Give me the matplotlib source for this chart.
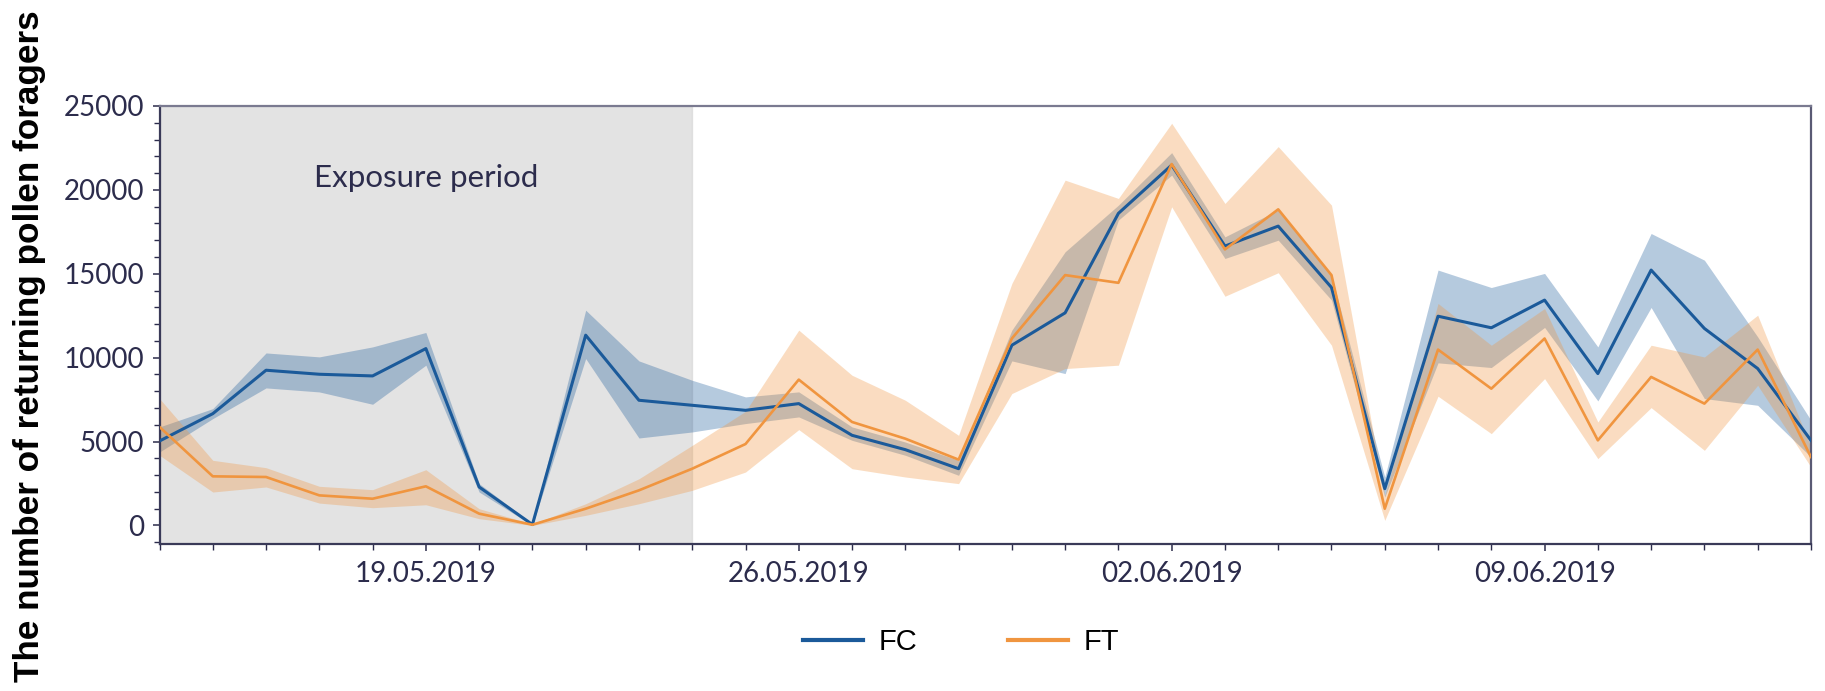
import matplotlib
matplotlib.use("Agg")
import matplotlib.pyplot as plt
import matplotlib.dates as mdates
from matplotlib.ticker import MultipleLocator, FuncFormatter
from matplotlib.lines import Line2D
import numpy as np
import pandas as pd

dates = ["2019-05-14", "2019-05-15", "2019-05-16", "2019-05-17", "2019-05-18", "2019-05-19",
         "2019-05-20", "2019-05-21", "2019-05-22", "2019-05-23", "2019-05-24", "2019-05-25",
         "2019-05-26", "2019-05-27", "2019-05-28", "2019-05-29", "2019-05-30", "2019-05-31",
         "2019-06-01", "2019-06-02", "2019-06-03", "2019-06-04", "2019-06-05", "2019-06-06",
         "2019-06-07", "2019-06-08", "2019-06-09", "2019-06-10", "2019-06-11", "2019-06-12",
         "2019-06-13", "2019-06-14"]

fc_mean = [5030, 6660, 9250, 9010, 8910, 10540, 2290, 50, 11340, 7460, 7160, 6860, 7260, 5370, 4515, 3380,
           10740, 12670, 18600, 21480, 16650, 17840, 14180, 2190, 12470, 11780, 13430, 9050, 15220, 11740, 9350, 5070]
fc_low = [4375, 6365, 8195, 7956, 7220, 9550, 1990, 0, 9945, 5210, 5570, 6070, 6465, 5070, 4180, 2985,
          9805, 9050, 18200, 20880, 15910, 17000, 13430, 1690, 9690, 9410, 11800, 7420, 12990, 7560, 7160, 4080]
fc_high = [5870, 6960, 10280, 10045, 10640, 11500, 2490, 100, 12830, 9805, 8650, 7660, 7960, 5870, 4970, 3880,
           11640, 16310, 19090, 22220, 17200, 18800, 14920, 2880, 15220, 14180, 15020, 10640, 17400, 15810, 11240, 6270]

ft_mean = [5870, 2925, 2885, 1790, 1590, 2330, 700, 40, 995, 2090, 3380, 4850, 8690, 6165, 5170, 3920,
           11140, 14920, 14460, 21540, 16450, 18840, 14920, 995, 10480, 8150, 11140, 5070, 8850, 7260, 10480, 4080]
ft_low = [4180, 1990, 2290, 1330, 1055, 1230, 400, 0, 600, 1290, 2090, 3180, 5710, 3380, 2885, 2490,
          7860, 9350, 9550, 18990, 13660, 15060, 10740, 300, 7700, 5470, 8750, 3980, 7020, 4475, 8350, 3480]
ft_high = [7560, 3880, 3440, 2330, 2130, 3320, 995, 80, 1290, 2780, 4770, 6800, 11640, 8950, 7460, 5370,
           14420, 20580, 19490, 23970, 19190, 22580, 19090, 1790, 13230, 10740, 12930, 6165, 10740, 10040, 12530, 4670]

exposure_start = "2019-05-14"
exposure_end = "2019-05-24"
exposure_label = "Exposure period"
series_names = ["FC", "FT"]
ylabel = "The number of returning pollen foragers"

c_fc = "#1b5a9a"
c_ft = "#f0953f"
dark = "#2c2c4c"

x = pd.to_datetime(dates)

fig = plt.figure(figsize=(18.25, 6.91), dpi=100)
ax = fig.add_axes([0.0874, 0.2127, 0.9049, 0.6339])

ax.axvspan(pd.Timestamp(exposure_start), pd.Timestamp(exposure_end), facecolor="#bdbdbd", alpha=0.42,
           edgecolor="#c8c8c8", lw=1.0, zorder=0)

ax.fill_between(x, fc_low, fc_high, color=c_fc, alpha=0.32, lw=0, zorder=1)
ax.fill_between(x, ft_low, ft_high, color=c_ft, alpha=0.32, lw=0, zorder=1)
ax.plot(x, fc_mean, color=c_fc, lw=2.2, zorder=3)
ax.plot(x, ft_mean, color=c_ft, lw=1.9, zorder=3)

ax.set_xlim(x[0], x[-1])
ax.set_ylim(-1110, 25000)

ax.xaxis.set_major_locator(mdates.WeekdayLocator(byweekday=mdates.SU))
ax.xaxis.set_minor_locator(mdates.DayLocator())
ax.xaxis.set_major_formatter(mdates.DateFormatter("%d.%m.%Y"))
ax.yaxis.set_major_locator(MultipleLocator(5000))
ax.yaxis.set_minor_locator(MultipleLocator(1000))
ax.yaxis.set_major_formatter(FuncFormatter(lambda v, p: f"{int(v)}"))

tick_font = "Lato"
ax.tick_params(axis="both", which="major", direction="out", length=5, width=1.1, color=dark,
               labelsize=20, labelcolor=dark, pad=6)
ax.tick_params(axis="both", which="minor", direction="out", length=4, width=1.0, color=dark)
ax.tick_params(axis="x", which="major", pad=7)
for lab in ax.get_xticklabels() + ax.get_yticklabels():
    lab.set_fontfamily(tick_font)

for s in ax.spines.values():
    s.set_color("#3a3a58")
    s.set_linewidth(1.6)
ax.spines["top"].set_color("#7a7a90")
ax.spines["right"].set_color("#5a5a74")

ax.text(pd.Timestamp("2019-05-19"), 20700, exposure_label, ha="center", va="center",
        fontsize=22.5, color=dark, family=tick_font)

fig.text(0.016, 0.499, ylabel, rotation=90, ha="center", va="center", fontsize=25.3,
         fontweight="bold", family="Liberation Sans", color="black")

handles = [Line2D([0], [0], color=c_fc, lw=3), Line2D([0], [0], color=c_ft, lw=3)]
fig.legend(handles, series_names, loc="center", bbox_to_anchor=(0.5266, 0.071), ncol=2, frameon=False,
           prop={"family": "Liberation Sans", "size": 21}, handlelength=2.05, handletextpad=0.55,
           columnspacing=3.1)

fig.savefig("out.png", dpi=100)
